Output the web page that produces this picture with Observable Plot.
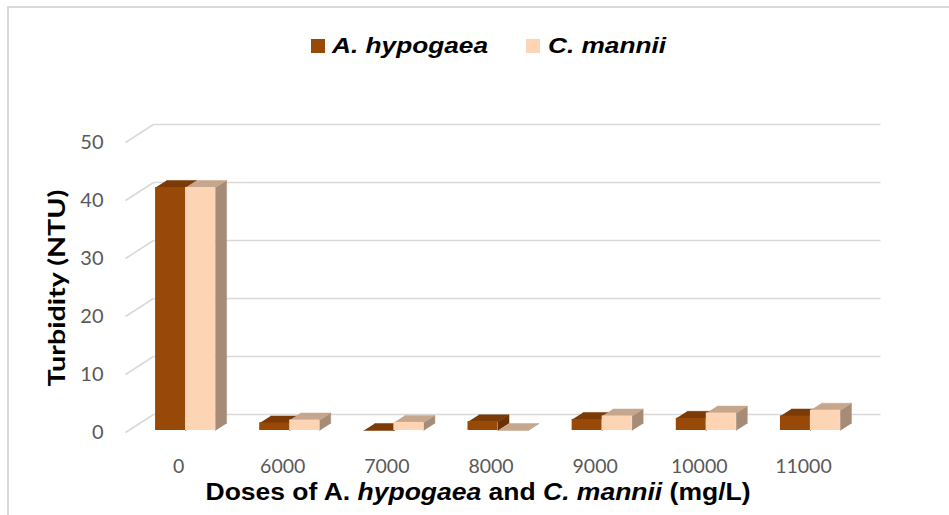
<!DOCTYPE html>
<html>
<head>
<meta charset="utf-8">
<script src="https://cdn.jsdelivr.net/npm/d3@7"></script>
<script src="https://cdn.jsdelivr.net/npm/@observablehq/plot@0.6"></script>
<style>
  html, body { margin: 0; padding: 0; background: #fff; }
  #wrap { position: relative; width: 949px; height: 515px; overflow: hidden; font-family: "Liberation Sans", Arial, sans-serif; }
  #border { position: absolute; left: 7px; top: 6px; width: 960px; height: 530px; border-top: 2px solid #d9d9d9; border-left: 2px solid #d9d9d9; }
  #chart { position: absolute; left: 0; top: 0; }
  .sw { position: absolute; width: 14px; height: 14px; }
  .lt { position: absolute; font-size: 22px; line-height: 1; font-weight: bold; font-style: italic; white-space: nowrap; transform-origin: 0 0; color: #000; }
  #xtitle { position: absolute; left: 478px; top: 481px; font-size: 23px; line-height: 1; font-weight: bold; white-space: nowrap; transform-origin: 50% 0; color: #000; }
  #ytitle { position: absolute; left: 57px; top: 288px; font-family: Lato, sans-serif; font-size: 22px; line-height: 1; font-weight: bold; white-space: nowrap; color: #000; }
</style>
</head>
<body>
<div id="wrap">
  <div id="border"></div>
  <div id="chart"></div>
  <div class="sw" style="left:311px;top:39px;background:#984807"></div>
  <div class="lt" id="lA" style="left:332px;top:35px" data-w="156">A. hypogaea</div>
  <div class="sw" style="left:526px;top:39px;background:#fdd5b4"></div>
  <div class="lt" id="lC" style="left:548px;top:35px" data-w="118">C. mannii</div>
  <div id="xtitle">Doses of A. <i>hypogaea</i> and <i>C. mannii</i> (mg/L)</div>
  <div id="ytitle">Turbidity (NTU)</div>
</div>
<script>
// ---- data ----
const doses = ["0", "6000", "7000", "8000", "9000", "10000", "11000"];
const hypogaea = [41.9, 1.3, 0, 1.5, 1.9, 2.1, 2.5];
const mannii = [41.9, 1.8, 1.4, 0, 2.5, 3.0, 3.5];
const yTicks = [0, 10, 20, 30, 40, 50];

// ---- geometry (pixels converted to data units) ----
const W = 949, H = 515;
const mL = 133, mR = 87, mT = 140, mB = 85;
const ux = 7 / (W - mL - mR);      // x data units per px
const uy = 50 / (H - mT - mB);     // y data units per px
const bw = 30 * ux;                // bar width
const ddx = 11 * ux, ddy = 7 * uy; // 3D depth offset

const series = [
  {name: "A. hypogaea", values: hypogaea, off: -bw, front: "#984807", top: "#7b3a06", side: "#6b3205"},
  {name: "C. mannii", values: mannii, off: 0, front: "#fdd5b4", top: "#c6a68c", side: "#a68b76"}
];

const marks = [];

// back-wall gridlines and left-wall diagonals
const gx0 = -0.5 - 8 * ux, gy0 = -2 * uy;
const gx1 = -0.5 + 20 * ux, gy1 = 16 * uy;
const gx2 = 6.5 + 18 * ux;
marks.push(Plot.link(yTicks, {x1: () => gx0, y1: t => t + gy0, x2: () => gx1, y2: t => t + gy1, stroke: "#d9d9d9", strokeWidth: 1.5}));
marks.push(Plot.link(yTicks, {x1: () => gx1, y1: t => t + gy1, x2: () => gx2, y2: t => t + gy1, stroke: "#d9d9d9", strokeWidth: 1.5}));

// y tick labels
marks.push(Plot.text(yTicks, {x: () => gx0, y: t => t + gy0, text: t => String(t), dx: -22, textAnchor: "end", fontSize: 20, fill: "#595959"}));
// x tick labels
marks.push(Plot.text(doses, {x: (d, i) => i, y: () => 0, text: d => d, dx: -7, dy: 36, fontSize: 19.5, fill: "#595959"}));

// 3D bars
for (const s of series) {
  const bars = s.values.map((v, i) => ({i, v, x1: i + s.off, x2: i + s.off + bw}));
  const side = bars.flatMap(b => [
    {id: b.i, x: b.x2, y: 0}, {id: b.i, x: b.x2, y: b.v},
    {id: b.i, x: b.x2 + ddx, y: b.v + ddy}, {id: b.i, x: b.x2 + ddx, y: ddy}
  ]);
  const top = bars.flatMap(b => [
    {id: b.i, x: b.x1, y: b.v}, {id: b.i, x: b.x2, y: b.v},
    {id: b.i, x: b.x2 + ddx, y: b.v + ddy}, {id: b.i, x: b.x1 + ddx, y: b.v + ddy}
  ]);
  marks.push(Plot.line(side, {x: "x", y: "y", z: "id", fill: s.side, stroke: s.side, strokeWidth: 0.5}));
  marks.push(Plot.line(top, {x: "x", y: "y", z: "id", fill: s.top, stroke: s.top, strokeWidth: 0.5}));
  marks.push(Plot.rect(bars, {x1: "x1", x2: "x2", y1: () => 0, y2: "v", fill: s.front}));
}

const chart = Plot.plot({
  width: W, height: H,
  marginLeft: mL, marginRight: mR, marginTop: mT, marginBottom: mB,
  x: {domain: [-0.5, 6.5], axis: null},
  y: {domain: [0, 50], axis: null},
  style: {fontFamily: "Lato, sans-serif", background: "transparent", overflow: "visible"},
  marks
});
document.getElementById("chart").append(chart);

// fit text widths
for (const el of document.querySelectorAll(".lt")) {
  const s = +el.dataset.w / el.getBoundingClientRect().width;
  el.style.transform = `scaleX(${s})`;
}
const xt = document.getElementById("xtitle");
const sx = 545 / xt.getBoundingClientRect().width;
xt.style.transform = `translateX(-50%) scaleX(${sx})`;
const yt = document.getElementById("ytitle");
const sy = 197 / yt.getBoundingClientRect().width;
yt.style.transform = `translate(-50%, -50%) rotate(-90deg) scaleX(${sy})`;
</script>
</body>
</html>
